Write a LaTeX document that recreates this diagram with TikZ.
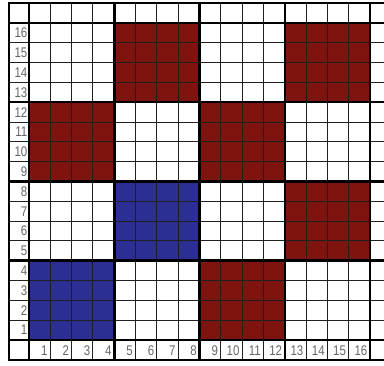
\documentclass[tikz,border=0pt]{standalone}
\usepackage{fontspec}
\setmainfont{Liberation Sans}
\definecolor{cellred}{RGB}{126,20,16}
\definecolor{cellblue}{RGB}{44,46,148}
\newcommand{\narrow}[1]{\scalebox{0.82}[1]{#1}}
\begin{document}
\begin{tikzpicture}[x=1pt,y=-1pt,
  thinline/.style={line width=1pt,draw=black!88},
  thickline/.style={line width=2.5pt,draw=black},
  lab/.style={anchor=east,inner sep=0pt,text=black!60,font=\fontsize{14}{14}\selectfont}]
\useasboundingbox (0,0) rectangle (384,366);
\clip (0,0) rectangle (384,366);
\fill[white] (0,0) rectangle (384,366);
\def\cw{21.3125}
\def\rh{19.8125}
% coloured 4x4 blocks (block column / block row from bottom)
\foreach \bc/\br/\col in {1/1/cellblue, 3/1/cellred, 2/2/cellblue, 4/2/cellred,
                          1/3/cellred, 3/3/cellred, 2/4/cellred, 4/4/cellred}
  \fill[\col] ({29+(\bc-1)*4*\cw},{340-\br*4*\rh}) rectangle ++({4*\cw},{4*\rh});
% thin grid lines
\foreach \i in {0,...,16}
  \draw[thinline] ({29+\i*\cw},3) -- ({29+\i*\cw},360);
\foreach \r in {0,...,16}
  \draw[thinline] (9,{340-\r*\rh}) -- (392,{340-\r*\rh});
\draw[thinline] (391,3) -- (391,360);
% thick lines
\foreach \i in {0,4,8,12,16}
  \draw[thickline] ({29+\i*\cw},3) -- ({29+\i*\cw},360);
\draw[thickline] (9,2) -- (9,361);
\foreach \r in {0,4,8,12,16}
  \draw[thickline] (8,{340-\r*\rh}) -- (392,{340-\r*\rh});
\draw[thickline] (8,3) -- (392,3);
\draw[thickline] (8,360) -- (392,360);
% labels
\foreach \r in {1,...,16}
  \node[lab] (row\r) at (27.5,{340-(\r-0.5)*\rh}) {\narrow{\r}};
\foreach \i in {1,...,16}
  \node[lab] (col\i) at ({29+\i*\cw-2.5},350.5) {\narrow{\i}};
\end{tikzpicture}
\end{document}
